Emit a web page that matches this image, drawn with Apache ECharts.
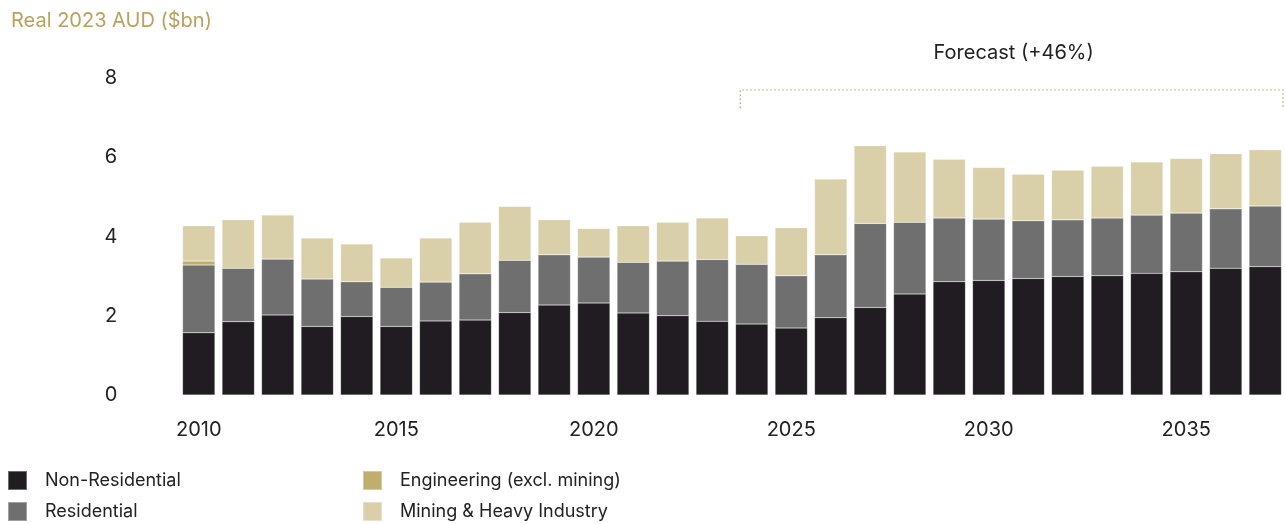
<!DOCTYPE html>
<html>
<head>
<meta charset="utf-8">
<script src="https://cdn.jsdelivr.net/npm/echarts@6/dist/echarts.min.js"></script>
<style>
html,body{margin:0;padding:0;background:#fff;}
#chart{width:1285px;height:524px;}
</style>
</head>
<body>
<div id="chart"></div>
<script>
const years = ['2010','2011','2012','2013','2014','2015','2016','2017','2018','2019','2020','2021','2022','2023','2024','2025','2026','2027','2028','2029','2030','2031','2032','2033','2034','2035','2036','2037'];
const nonResidential = [1.57,1.85,2.02,1.73,1.98,1.73,1.87,1.89,2.08,2.27,2.32,2.07,2.00,1.86,1.79,1.69,1.95,2.21,2.55,2.86,2.89,2.94,2.99,3.01,3.07,3.11,3.20,3.24];
const residential = [1.71,1.35,1.41,1.20,0.88,0.99,0.98,1.17,1.32,1.27,1.16,1.28,1.38,1.56,1.51,1.32,1.59,2.12,1.81,1.61,1.55,1.46,1.43,1.46,1.47,1.48,1.50,1.53];
const engineering = [0.10,0,0,0,0,0,0,0,0,0,0,0,0,0,0,0,0,0,0,0,0,0,0,0,0,0,0,0];
const mining = [0.89,1.22,1.11,1.03,0.95,0.74,1.11,1.30,1.36,0.88,0.72,0.92,0.98,1.05,0.72,1.21,1.91,1.96,1.77,1.48,1.30,1.17,1.25,1.30,1.34,1.38,1.39,1.42];
const yTicks = [0,2,4,6,8];
const forecastStart = '2024';
const forecastLabel = 'Forecast (+46%)';
const unitLabel = 'Real 2023 AUD ($bn)';
const seriesNames = ['Non-Residential','Residential','Engineering (excl. mining)','Mining & Heavy Industry'];

const FONT = 'Inter, "Noto Sans", sans-serif';
const chart = echarts.init(document.getElementById('chart'), null, {renderer:'canvas'});

function bar(name, data, color){
  return {name, type:'bar', stack:'total', data, barWidth:'82%',
    itemStyle:{color, borderColor:'rgba(255,255,255,0.35)', borderWidth:0.5}};
}

function legendAt(name, left, top){
  return {data:[name], left, top, padding:0, itemWidth:19, itemHeight:19, icon:'rect',
    textStyle:{fontSize:18, color:'#222', fontFamily:FONT, padding:[0,0,0,13]}};
}

const option = {
  animation:false,
  backgroundColor:'#fff',
  textStyle:{fontFamily:FONT},
  title:{text:unitLabel, left:6, top:6, textStyle:{fontFamily:FONT, fontSize:20, fontWeight:'normal', color:'#B9A25E'}},
  grid:{left:179, right:-5, top:78, bottom:129, containLabel:false},
  xAxis:{type:'category', data:years,
    axisLine:{show:false}, axisTick:{show:false},
    axisLabel:{interval:4, margin:25, fontSize:20, color:'#222', fontFamily:FONT}},
  yAxis:{type:'value', min:yTicks[0], max:yTicks[yTicks.length-1], interval:2,
    splitLine:{show:false}, axisLine:{show:false}, axisTick:{show:false},
    axisLabel:{margin:68, fontSize:20, color:'#222', fontFamily:FONT, align:'center'}},
  legend:[
    legendAt(seriesNames[0], 7, 470),
    legendAt(seriesNames[1], 7, 501),
    legendAt(seriesNames[2], 362, 470),
    legendAt(seriesNames[3], 362, 501)
  ],
  series:[
    bar(seriesNames[0], nonResidential, '#201C22'),
    bar(seriesNames[1], residential, '#6F6F6F'),
    bar(seriesNames[2], engineering, '#BFAE6E'),
    bar(seriesNames[3], mining, '#D9D0A9')
  ]
};
chart.setOption(option);

// forecast bracket
const idx = years.indexOf(forecastStart);
const cx = chart.convertToPixel({xAxisIndex:0}, idx);
const cx2 = chart.convertToPixel({xAxisIndex:0}, idx+1);
const step = cx2 - cx;
const x0 = cx - step*0.29;
const x1 = 1283;
const yLine = 90, yEnd = 108;
const dash = {stroke:'#B9A25E', lineWidth:1.2, lineDash:[1.5,2.5]};
chart.setOption({graphic:[
  {type:'polyline', shape:{points:[[x0,yEnd],[x0,yLine],[x1,yLine],[x1,yEnd]]}, style:Object.assign({fill:null}, dash), silent:true},
  {type:'text', x:(x0+x1)/2 + 2, y:53, style:{text:forecastLabel, fontSize:20, fontFamily:FONT, fill:'#222', align:'center', verticalAlign:'middle'}}
]});
</script>
</body>
</html>
